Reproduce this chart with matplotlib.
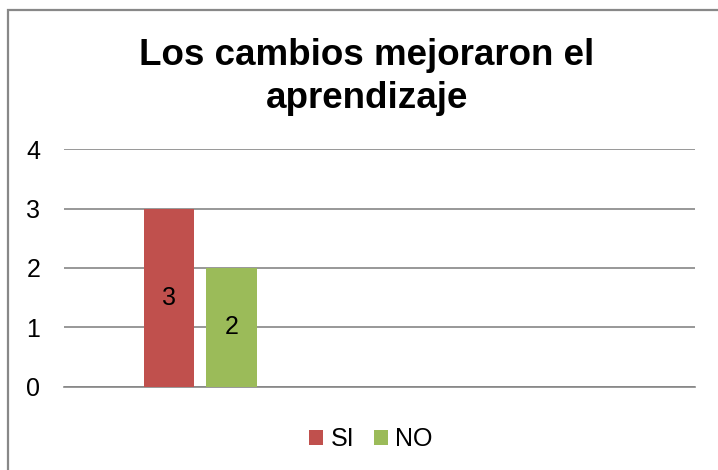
import matplotlib.pyplot as plt
from matplotlib.patches import Rectangle

# datos
series = ['SI', 'NO']
valores = [3, 2]
colores = ['#C0504D', '#9BBB59']
yticks = [0, 1, 2, 3, 4]
titulo = 'Los cambios mejoraron el\naprendizaje'

plt.rcParams['font.family'] = ['Liberation Sans', 'DejaVu Sans']

W, H = 718, 470
fig = plt.figure(figsize=(W / 100, H / 100), dpi=100)
ax = fig.add_axes([64 / W, 1 - 386.5 / H, (695 - 64) / W, (386.5 - 149.3) / H])

# borde del area del grafico (cortado a la derecha y abajo)
fig.patches.append(Rectangle((8 / W, -0.1), 1.2, 1 - 10 / H + 0.1,
                             transform=fig.transFigure, fill=False,
                             edgecolor='#888888', linewidth=1.6))

ancho = 1.0
sep = 1.24
pos = [i * sep for i in range(len(series))]
for p, v, c, s in zip(pos, valores, colores, series):
    ax.bar(p, v, width=ancho, color=c, label=s, zorder=3)
    ax.text(p, v / 2, str(v), ha='center', va='center', fontsize=18, zorder=4)

ax.set_xlim(-2.1, 12.58 - 2.1)
ax.set_ylim(0, 4)
ax.set_yticks(yticks)
ax.set_xticks([])
ax.tick_params(axis='y', length=0, pad=17, labelsize=18)
ax.grid(axis='y', color='#868686', linewidth=1.2, zorder=0)
for side in ['top', 'right', 'left']:
    ax.spines[side].set_visible(False)
ax.spines['bottom'].set_color('#868686')
ax.spines['bottom'].set_linewidth(1.2)

fig.text(367 / W, 1 - 77 / H, titulo, ha='center', va='center',
         fontsize=26.5, fontweight='bold', linespacing=1.3)

fig.legend(loc='center', bbox_to_anchor=(371 / W, 1 - 439 / H), ncol=2,
           frameon=False, fontsize=18, handlelength=0.55, handleheight=0.55,
           handletextpad=0.3, columnspacing=0.8, borderpad=0)

fig.savefig('out.png', dpi=100)
